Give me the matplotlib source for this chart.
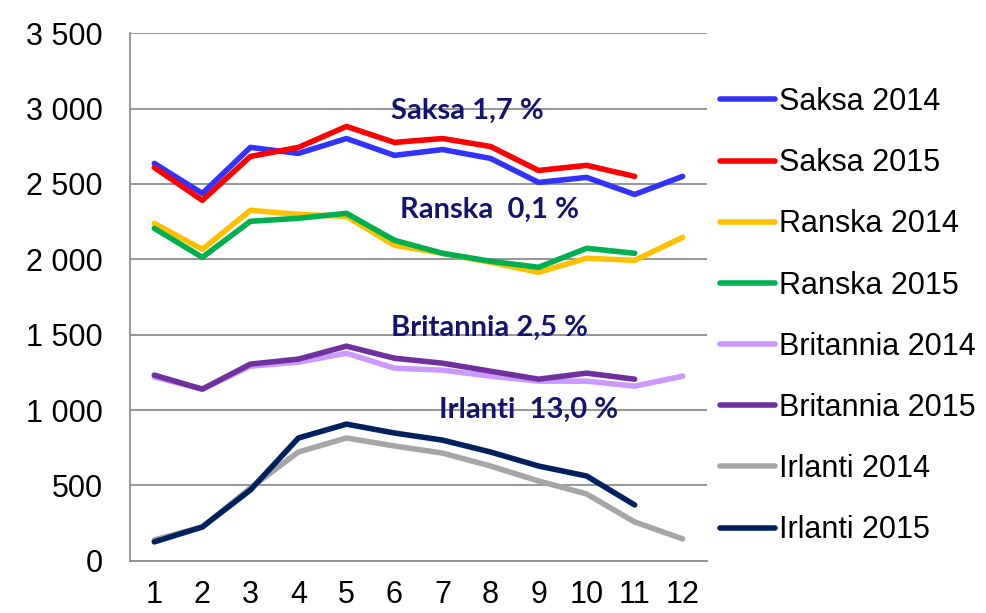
import matplotlib.pyplot as plt

plt.rcParams['font.family'] = ['Liberation Sans', 'DejaVu Sans']

months = [1, 2, 3, 4, 5, 6, 7, 8, 9, 10, 11, 12]

saksa_2014 = [2636, 2437, 2742, 2702, 2801, 2689, 2728, 2669, 2510, 2543, 2430, 2550]
saksa_2015 = [2609, 2391, 2682, 2742, 2881, 2775, 2801, 2748, 2589, 2623, 2550]
ranska_2014 = [2238, 2066, 2325, 2298, 2285, 2093, 2040, 1980, 1914, 2007, 1993, 2146]
ranska_2015 = [2205, 2013, 2252, 2272, 2305, 2126, 2040, 1987, 1947, 2073, 2040]
brit_2014 = [1219, 1139, 1291, 1318, 1377, 1278, 1265, 1225, 1192, 1192, 1159, 1225]
brit_2015 = [1232, 1139, 1305, 1338, 1424, 1344, 1311, 1258, 1205, 1245, 1205]
irl_2014 = [139, 225, 483, 722, 815, 762, 715, 629, 530, 444, 258, 146]
irl_2015 = [126, 225, 470, 815, 907, 848, 801, 722, 629, 563, 371]

series = [
    ('Saksa 2014', saksa_2014, '#3333FF'),
    ('Saksa 2015', saksa_2015, '#FF0000'),
    ('Ranska 2014', ranska_2014, '#FFC000'),
    ('Ranska 2015', ranska_2015, '#00B050'),
    ('Britannia 2014', brit_2014, '#CC99FF'),
    ('Britannia 2015', brit_2015, '#7030A0'),
    ('Irlanti 2014', irl_2014, '#A6A6A6'),
    ('Irlanti 2015', irl_2015, '#002060'),
]

notes = [('Saksa 1,7 %', 7.52, 2985), ('Ranska  0,1 %', 7.98, 2325),
         ('Britannia 2,5 %', 7.98, 1545), ('Irlanti  13,0 %', 8.8, 1000)]

fig = plt.figure(figsize=(9.87, 6.13), dpi=100)
ax = fig.add_axes([0.132, 0.085, 0.584, 0.861])

for name, vals, col in series:
    ax.plot(months[:len(vals)], vals, color=col, lw=4, label=name,
            solid_capstyle='round', solid_joinstyle='round')

for txt, x, y in notes:
    ax.text(x, y, txt, ha='center', va='center', fontsize=21, fontweight='bold',
            color='#14146E', family=['Lato', 'DejaVu Sans'])

ax.set_xlim(0.5, 12.5)
ax.set_ylim(0, 3500)
ax.set_yticks(range(0, 3501, 500))
ax.set_yticklabels([f'{v:,}'.replace(',', ' ') for v in range(0, 3501, 500)])
ax.set_xticks(months)
ax.tick_params(length=0, labelsize=22)
ax.tick_params(axis='y', pad=20)
ax.tick_params(axis='x', pad=14)
ax.grid(axis='y', color='#8C8C8C', lw=1.3)
ax.set_axisbelow(True)
for s in ['top', 'right']:
    ax.spines[s].set_visible(False)
for s in ['left', 'bottom']:
    ax.spines[s].set_color('#8C8C8C')
    ax.spines[s].set_linewidth(1.3)

fig.legend(loc='upper left', bbox_to_anchor=(0.729, 0.858), frameon=False,
           fontsize=22, handlelength=1.8, handletextpad=0.15, labelspacing=1.02,
           borderpad=0, borderaxespad=0)

fig.savefig('out.png', dpi=100)
